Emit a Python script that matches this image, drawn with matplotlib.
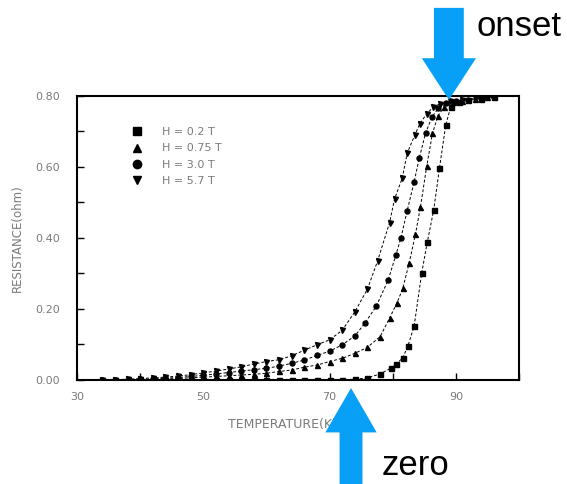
import matplotlib
matplotlib.use("Agg")
import matplotlib.pyplot as plt
from matplotlib.lines import Line2D
from matplotlib.ticker import MultipleLocator, FormatStrFormatter

# H = 0.2 T (squares)
temp_sq = [34, 36, 38, 40, 42, 44, 46, 48, 50, 52, 54, 56, 58, 60, 62, 64, 66, 68, 70, 72, 74, 76, 78,
           79.7, 80.6, 81.6, 82.4, 83.4, 84.6, 85.5, 86.5, 87.4, 88.4, 89.2, 90.5, 92, 94, 96]
res_sq = [0, 0, 0, 0, 0, 0, 0.001, 0.001, 0.001, 0.001, 0.001, 0.001, 0.001, 0.001, 0.001, 0.001, 0.001,
          0.001, 0.001, 0.001, 0.002, 0.006, 0.017,
          0.033, 0.045, 0.063, 0.095, 0.152, 0.302, 0.390, 0.479, 0.596, 0.718, 0.770, 0.782, 0.788, 0.792, 0.796]

# H = 0.75 T (triangles up)
temp_tu = [34, 36, 38, 40, 42, 44, 46, 48, 50, 52, 54, 56, 58, 60, 62, 64, 66, 68, 70, 72, 74, 76, 78,
           79.5, 80.7, 81.6, 82.6, 83.6, 84.4, 85.4, 86.3, 87.2, 88.2, 89.5, 91, 93, 95]
res_tu = [0, 0, 0, 0.001, 0.002, 0.003, 0.004, 0.006, 0.008, 0.010, 0.012, 0.014, 0.016, 0.019, 0.024,
          0.028, 0.036, 0.042, 0.052, 0.061, 0.075, 0.092, 0.122,
          0.174, 0.218, 0.258, 0.329, 0.410, 0.488, 0.603, 0.695, 0.745, 0.770, 0.782, 0.787, 0.792, 0.796]

# H = 3.0 T (circles)
temp_ci = [34, 36, 38, 40, 42, 44, 46, 48, 50, 52, 54, 56, 58, 60, 62, 64, 66, 68, 70, 72, 74,
           75.6, 77.4, 79.3, 80.5, 81.3, 82.3, 83.4, 84.2, 85.2, 86.2, 87.2, 88.5, 90, 92, 94, 96]
res_ci = [0, 0, 0.001, 0.002, 0.003, 0.005, 0.007, 0.010, 0.013, 0.017, 0.021, 0.025, 0.029, 0.033,
          0.039, 0.047, 0.056, 0.069, 0.081, 0.099, 0.124,
          0.160, 0.208, 0.282, 0.352, 0.400, 0.477, 0.559, 0.624, 0.695, 0.740, 0.765, 0.779, 0.785, 0.790,
          0.793, 0.797]

# H = 5.7 T (triangles down)
temp_td = [34, 36, 38, 40, 42, 44, 46, 48, 50, 52, 54, 56, 58, 60, 62, 64, 66, 68, 70, 72, 74,
           76, 77.6, 79.5, 80.3, 81.5, 82.3, 83.5, 84.3, 85.4, 86.4, 87.5, 89, 91, 93, 95]
res_td = [0.000, 0.001, 0.002, 0.004, 0.006, 0.008, 0.011, 0.015, 0.020, 0.025, 0.031, 0.037, 0.045,
          0.052, 0.057, 0.068, 0.084, 0.099, 0.113, 0.140, 0.192,
          0.256, 0.335, 0.443, 0.510, 0.568, 0.639, 0.690, 0.722, 0.750, 0.768, 0.778, 0.785, 0.790,
          0.794, 0.797]

labels = ["H = 0.2 T", "H = 0.75 T", "H = 3.0 T", "H = 5.7 T"]
markers = ["s", "^", "o", "v"]
series = [(temp_sq, res_sq), (temp_tu, res_tu), (temp_ci, res_ci), (temp_td, res_td)]

xticks = [30, 50, 70, 90]
yticks = [0.0, 0.2, 0.4, 0.6, 0.8]

# annotation arrows: tip positions in data units
onset_tip = (88.9, 0.789)
zero_tip = (73.4, -0.0225)

blue = "#08A0F6"
gray = "#7a7a7a"

fig = plt.figure(figsize=(5.67, 4.84), dpi=100)
ax = fig.add_axes([0.1358, 0.2149, 0.7795, 0.5868])

for (t, r), m in zip(series, markers):
    ax.plot(t, r, color="black", lw=0.7, dashes=(3, 2), marker=m, markersize=3.6,
            markerfacecolor="black", markeredgecolor="black")

ax.set_xlim(30, 100)
ax.set_ylim(0, 0.8)
ax.set_xticks(xticks)
ax.xaxis.set_minor_locator(MultipleLocator(10))
ax.set_yticks(yticks)
ax.yaxis.set_minor_locator(MultipleLocator(0.1))
ax.yaxis.set_major_formatter(FormatStrFormatter("%.2f"))

ax.tick_params(which="both", direction="in", length=5, width=1, color="black",
               labelcolor=gray, labelsize=8, top=False, right=False)
ax.tick_params(axis="y", pad=12)
ax.tick_params(axis="x", pad=9)

for s in ax.spines.values():
    s.set_linewidth(1.5)
    s.set_color("black")

ax.set_ylabel("RESISTANCE(ohm)", fontsize=8.5, color=gray)
ax.yaxis.set_label_coords(-0.12, 0.5)
ax.set_xlabel("TEMPERATURE(K)", fontsize=9, color=gray, ha="left")
ax.xaxis.set_label_coords(0.342, -0.134)

handles = [Line2D([], [], ls="none", marker=m, color="black", markersize=6) for m in markers]
ax.legend(handles, labels, loc="upper left", bbox_to_anchor=(0.10, 0.925), frameon=False,
          fontsize=8, labelcolor=gray, handlelength=1.0, handletextpad=1.75, labelspacing=0.55)

arrow_kw = dict(fc=blue, ec="none", shrinkA=0, shrinkB=0, mutation_scale=1)
ax.annotate("", xy=onset_tip, xycoords="data", xytext=(0, 92), textcoords="offset pixels",
            arrowprops=dict(arrowstyle="simple,head_length=30,head_width=39,tail_width=21.5", **arrow_kw),
            annotation_clip=False, zorder=10)
ax.annotate("", xy=zero_tip, xycoords="data", xytext=(0, -110), textcoords="offset pixels",
            arrowprops=dict(arrowstyle="simple,head_length=32,head_width=37,tail_width=16.5", **arrow_kw),
            annotation_clip=False, zorder=10)

fig.text(476 / 567, 1 - 36 / 484, "onset", fontsize=25, family="Liberation Sans", va="baseline", ha="left")
fig.text(382 / 567, 2 / 484, "zero", fontsize=25, family="Liberation Sans", va="bottom", ha="left")

fig.savefig("out.png", dpi=100)
